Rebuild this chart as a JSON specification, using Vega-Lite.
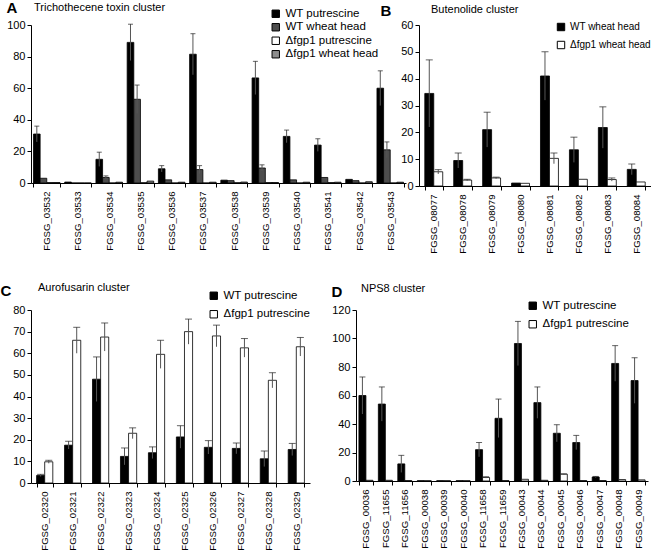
{
  "$schema": "https://vega.github.io/schema/vega-lite/v6.json",
  "padding": {"left": 0, "top": 0, "right": 0, "bottom": 0},
  "spacing": 28,
  "datasets": {
    "a": [
      {"g": "FGSG_03532", "s": "WT putrescine", "v": 31, "lo": 26, "hi": 36},
      {"g": "FGSG_03532", "s": "WT wheat head", "v": 3},
      {"g": "FGSG_03532", "s": "Δfgp1 putrescine", "v": 0.3},
      {"g": "FGSG_03532", "s": "Δfgp1 wheat head", "v": 0.3},
      {"g": "FGSG_03533", "s": "WT putrescine", "v": 0.6},
      {"g": "FGSG_03533", "s": "WT wheat head", "v": 0},
      {"g": "FGSG_03533", "s": "Δfgp1 putrescine", "v": 0},
      {"g": "FGSG_03533", "s": "Δfgp1 wheat head", "v": 0},
      {"g": "FGSG_03534", "s": "WT putrescine", "v": 15, "lo": 10.5, "hi": 19.5},
      {"g": "FGSG_03534", "s": "WT wheat head", "v": 3.5, "lo": 2.5, "hi": 4.5},
      {"g": "FGSG_03534", "s": "Δfgp1 putrescine", "v": 0},
      {"g": "FGSG_03534", "s": "Δfgp1 wheat head", "v": 0.5},
      {"g": "FGSG_03535", "s": "WT putrescine", "v": 89, "lo": 77.5, "hi": 100.5},
      {"g": "FGSG_03535", "s": "WT wheat head", "v": 53, "lo": 44, "hi": 62},
      {"g": "FGSG_03535", "s": "Δfgp1 putrescine", "v": 0.2},
      {"g": "FGSG_03535", "s": "Δfgp1 wheat head", "v": 1.2},
      {"g": "FGSG_03536", "s": "WT putrescine", "v": 9, "lo": 7, "hi": 11},
      {"g": "FGSG_03536", "s": "WT wheat head", "v": 2},
      {"g": "FGSG_03536", "s": "Δfgp1 putrescine", "v": 0},
      {"g": "FGSG_03536", "s": "Δfgp1 wheat head", "v": 0.5},
      {"g": "FGSG_03537", "s": "WT putrescine", "v": 81.5, "lo": 68.5, "hi": 94.5},
      {"g": "FGSG_03537", "s": "WT wheat head", "v": 8.5, "lo": 6, "hi": 11},
      {"g": "FGSG_03537", "s": "Δfgp1 putrescine", "v": 0},
      {"g": "FGSG_03537", "s": "Δfgp1 wheat head", "v": 0.5},
      {"g": "FGSG_03538", "s": "WT putrescine", "v": 1.8},
      {"g": "FGSG_03538", "s": "WT wheat head", "v": 1.5},
      {"g": "FGSG_03538", "s": "Δfgp1 putrescine", "v": 0.2},
      {"g": "FGSG_03538", "s": "Δfgp1 wheat head", "v": 0.6},
      {"g": "FGSG_03539", "s": "WT putrescine", "v": 66.5, "lo": 56, "hi": 77},
      {"g": "FGSG_03539", "s": "WT wheat head", "v": 9.5, "lo": 7.5, "hi": 11.5},
      {"g": "FGSG_03539", "s": "Δfgp1 putrescine", "v": 0.3},
      {"g": "FGSG_03539", "s": "Δfgp1 wheat head", "v": 0.3},
      {"g": "FGSG_03540", "s": "WT putrescine", "v": 29.5, "lo": 25.5, "hi": 33.5},
      {"g": "FGSG_03540", "s": "WT wheat head", "v": 2},
      {"g": "FGSG_03540", "s": "Δfgp1 putrescine", "v": 0},
      {"g": "FGSG_03540", "s": "Δfgp1 wheat head", "v": 0.5},
      {"g": "FGSG_03541", "s": "WT putrescine", "v": 24, "lo": 20, "hi": 28},
      {"g": "FGSG_03541", "s": "WT wheat head", "v": 3.5},
      {"g": "FGSG_03541", "s": "Δfgp1 putrescine", "v": 0.3},
      {"g": "FGSG_03541", "s": "Δfgp1 wheat head", "v": 0.5},
      {"g": "FGSG_03542", "s": "WT putrescine", "v": 2.3},
      {"g": "FGSG_03542", "s": "WT wheat head", "v": 1.5},
      {"g": "FGSG_03542", "s": "Δfgp1 putrescine", "v": 0},
      {"g": "FGSG_03542", "s": "Δfgp1 wheat head", "v": 0.8},
      {"g": "FGSG_03543", "s": "WT putrescine", "v": 60, "lo": 49, "hi": 71},
      {"g": "FGSG_03543", "s": "WT wheat head", "v": 21, "lo": 16, "hi": 26},
      {"g": "FGSG_03543", "s": "Δfgp1 putrescine", "v": 0},
      {"g": "FGSG_03543", "s": "Δfgp1 wheat head", "v": 0.5}
    ],
    "b": [
      {"g": "FGSG_08077", "s": "WT wheat head", "v": 34.5, "lo": 22, "hi": 47},
      {"g": "FGSG_08077", "s": "Δfgp1 wheat head", "v": 5.3, "lo": 4.5, "hi": 6.1},
      {"g": "FGSG_08078", "s": "WT wheat head", "v": 9.5, "lo": 6.7, "hi": 12.3},
      {"g": "FGSG_08078", "s": "Δfgp1 wheat head", "v": 2.2, "lo": 1.9, "hi": 2.5},
      {"g": "FGSG_08079", "s": "WT wheat head", "v": 21, "lo": 14.5, "hi": 27.5},
      {"g": "FGSG_08079", "s": "Δfgp1 wheat head", "v": 3, "lo": 2.7, "hi": 3.3},
      {"g": "FGSG_08080", "s": "WT wheat head", "v": 1.1},
      {"g": "FGSG_08080", "s": "Δfgp1 wheat head", "v": 1.0},
      {"g": "FGSG_08081", "s": "WT wheat head", "v": 41, "lo": 32, "hi": 50},
      {"g": "FGSG_08081", "s": "Δfgp1 wheat head", "v": 10.3, "lo": 8.3, "hi": 12.3},
      {"g": "FGSG_08082", "s": "WT wheat head", "v": 13.5, "lo": 8.8, "hi": 18.2},
      {"g": "FGSG_08082", "s": "Δfgp1 wheat head", "v": 2.5},
      {"g": "FGSG_08083", "s": "WT wheat head", "v": 21.8, "lo": 14.1, "hi": 29.5},
      {"g": "FGSG_08083", "s": "Δfgp1 wheat head", "v": 2.4, "lo": 1.8, "hi": 3},
      {"g": "FGSG_08084", "s": "WT wheat head", "v": 6.2, "lo": 4.2, "hi": 8.2},
      {"g": "FGSG_08084", "s": "Δfgp1 wheat head", "v": 1.5}
    ],
    "c": [
      {"g": "FGSG_02320", "s": "WT putrescine", "v": 3.5, "lo": 3, "hi": 4},
      {"g": "FGSG_02320", "s": "Δfgp1 putrescine", "v": 9.8, "lo": 9.1, "hi": 10.5},
      {"g": "FGSG_02321", "s": "WT putrescine", "v": 17.5, "lo": 15.7, "hi": 19.3},
      {"g": "FGSG_02321", "s": "Δfgp1 putrescine", "v": 66, "lo": 60, "hi": 72},
      {"g": "FGSG_02322", "s": "WT putrescine", "v": 48, "lo": 37.7, "hi": 58.3},
      {"g": "FGSG_02322", "s": "Δfgp1 putrescine", "v": 67.5, "lo": 61, "hi": 74},
      {"g": "FGSG_02323", "s": "WT putrescine", "v": 12.3, "lo": 8.4, "hi": 16.2},
      {"g": "FGSG_02323", "s": "Δfgp1 putrescine", "v": 23, "lo": 20.5, "hi": 25.5},
      {"g": "FGSG_02324", "s": "WT putrescine", "v": 14, "lo": 11.3, "hi": 16.7},
      {"g": "FGSG_02324", "s": "Δfgp1 putrescine", "v": 59.5, "lo": 53, "hi": 66},
      {"g": "FGSG_02325", "s": "WT putrescine", "v": 21.3, "lo": 16.1, "hi": 26.5},
      {"g": "FGSG_02325", "s": "Δfgp1 putrescine", "v": 70, "lo": 64.2, "hi": 75.8},
      {"g": "FGSG_02326", "s": "WT putrescine", "v": 16.5, "lo": 13.4, "hi": 19.6},
      {"g": "FGSG_02326", "s": "Δfgp1 putrescine", "v": 68, "lo": 63, "hi": 73},
      {"g": "FGSG_02327", "s": "WT putrescine", "v": 16, "lo": 13.5, "hi": 18.5},
      {"g": "FGSG_02327", "s": "Δfgp1 putrescine", "v": 62.5, "lo": 58.2, "hi": 66.8},
      {"g": "FGSG_02328", "s": "WT putrescine", "v": 11.2, "lo": 7.6, "hi": 14.8},
      {"g": "FGSG_02328", "s": "Δfgp1 putrescine", "v": 47.5, "lo": 44, "hi": 51},
      {"g": "FGSG_02329", "s": "WT putrescine", "v": 15.5, "lo": 12.7, "hi": 18.3},
      {"g": "FGSG_02329", "s": "Δfgp1 putrescine", "v": 63, "lo": 58.7, "hi": 67.3}
    ],
    "d": [
      {"g": "FGSG_00036", "s": "WT putrescine", "v": 60, "lo": 47, "hi": 73},
      {"g": "FGSG_00036", "s": "Δfgp1 putrescine", "v": 0.5},
      {"g": "FGSG_11655", "s": "WT putrescine", "v": 54, "lo": 42, "hi": 66},
      {"g": "FGSG_11655", "s": "Δfgp1 putrescine", "v": 0.5},
      {"g": "FGSG_11656", "s": "WT putrescine", "v": 12, "lo": 6, "hi": 18},
      {"g": "FGSG_11656", "s": "Δfgp1 putrescine", "v": 0.3},
      {"g": "FGSG_00038", "s": "WT putrescine", "v": 0.2},
      {"g": "FGSG_00038", "s": "Δfgp1 putrescine", "v": 0.2},
      {"g": "FGSG_00039", "s": "WT putrescine", "v": 0.2},
      {"g": "FGSG_00039", "s": "Δfgp1 putrescine", "v": 0.2},
      {"g": "FGSG_00040", "s": "WT putrescine", "v": 0.2},
      {"g": "FGSG_00040", "s": "Δfgp1 putrescine", "v": 0.2},
      {"g": "FGSG_11658", "s": "WT putrescine", "v": 22, "lo": 17, "hi": 27},
      {"g": "FGSG_11658", "s": "Δfgp1 putrescine", "v": 2.5, "lo": 2, "hi": 3},
      {"g": "FGSG_11659", "s": "WT putrescine", "v": 44, "lo": 30.5, "hi": 57.5},
      {"g": "FGSG_11659", "s": "Δfgp1 putrescine", "v": 0.3},
      {"g": "FGSG_00043", "s": "WT putrescine", "v": 96.5, "lo": 81, "hi": 112},
      {"g": "FGSG_00043", "s": "Δfgp1 putrescine", "v": 1.2},
      {"g": "FGSG_00044", "s": "WT putrescine", "v": 55, "lo": 44, "hi": 66},
      {"g": "FGSG_00044", "s": "Δfgp1 putrescine", "v": 0.5},
      {"g": "FGSG_00045", "s": "WT putrescine", "v": 33.5, "lo": 27.5, "hi": 39.5},
      {"g": "FGSG_00045", "s": "Δfgp1 putrescine", "v": 4.8, "lo": 4.6, "hi": 5},
      {"g": "FGSG_00046", "s": "WT putrescine", "v": 27, "lo": 22, "hi": 32},
      {"g": "FGSG_00046", "s": "Δfgp1 putrescine", "v": 0.3},
      {"g": "FGSG_00047", "s": "WT putrescine", "v": 2.8, "lo": 2.4, "hi": 3.2},
      {"g": "FGSG_00047", "s": "Δfgp1 putrescine", "v": 0.3},
      {"g": "FGSG_00048", "s": "WT putrescine", "v": 82.5, "lo": 70, "hi": 95},
      {"g": "FGSG_00048", "s": "Δfgp1 putrescine", "v": 1},
      {"g": "FGSG_00049", "s": "WT putrescine", "v": 70.5, "lo": 54.5, "hi": 86.5},
      {"g": "FGSG_00049", "s": "Δfgp1 putrescine", "v": 0.8}
    ]
  },
  "vconcat": [
    {
      "hconcat": [
        {
          "width": 375,
          "height": 158,
          "data": {"name": "a"},
          "title": {"text": "Trichothecene toxin cluster", "dx": 3, "offset": 0, "dy": 13},
          "encoding": {
            "x": {"field": "g", "type": "nominal", "sort": null, "scale": {"paddingInner": 0.15, "paddingOuter": 0.08}},
            "xOffset": {"field": "s", "type": "nominal", "scale": {"domain": ["WT putrescine", "WT wheat head", "Δfgp1 putrescine", "Δfgp1 wheat head"]}}
          },
          "layer": [
            {
              "mark": {"type": "bar", "stroke": "black", "strokeWidth": 0.8},
              "encoding": {
                "y": {"field": "v", "type": "quantitative", "title": "A", "scale": {"domain": [0, 100]},
                  "axis": {"values": [0, 20, 40, 60, 80, 100], "labelOverlap": false, "titleX": -25, "titleY": -25}},
                "color": {"field": "s", "type": "nominal",
                  "scale": {"domain": ["WT putrescine", "WT wheat head", "Δfgp1 putrescine", "Δfgp1 wheat head"], "range": ["#000000", "#4d4d4d", "#ffffff", "#8c8c8c"]},
                  "legend": {"legendX": 239, "legendY": -17, "rowPadding": 0.5}}
              }
            },
            {
              "transform": [{"filter": "isValid(datum.hi)"}],
              "mark": {"type": "rule", "color": "#555555", "strokeWidth": 1},
              "encoding": {"y": {"field": "lo", "type": "quantitative", "title": "A",
                  "axis": {"values": [0, 20, 40, 60, 80, 100], "labelOverlap": false, "titleX": -25, "titleY": -25}}, "y2": {"field": "hi"}}
            },
            {
              "transform": [{"filter": "isValid(datum.hi)"}],
              "mark": {"type": "tick", "color": "#222222", "size": 5, "thickness": 1},
              "encoding": {"y": {"field": "hi", "type": "quantitative", "title": "A",
                  "axis": {"values": [0, 20, 40, 60, 80, 100], "labelOverlap": false, "titleX": -25, "titleY": -25}}}
            }
          ]
        },
        {
          "width": 232,
          "height": 161,
          "data": {"name": "b"},
          "title": {"text": "Butenolide cluster", "dx": 12, "offset": 0, "dy": 12},
          "encoding": {
            "x": {"field": "g", "type": "nominal", "sort": null, "scale": {"paddingInner": 0.38, "paddingOuter": 0.2}},
            "xOffset": {"field": "s", "type": "nominal", "scale": {"domain": ["WT wheat head", "Δfgp1 wheat head"]}}
          },
          "layer": [
            {
              "mark": {"type": "bar", "stroke": "black", "strokeWidth": 0.8},
              "encoding": {
                "y": {"field": "v", "type": "quantitative", "title": "B", "scale": {"domain": [0, 60]},
                  "axis": {"values": [0, 10, 20, 30, 40, 50, 60], "labelOverlap": false, "titleX": -39, "titleY": -22}},
                "color": {"field": "s", "type": "nominal",
                  "scale": {"domain": ["WT wheat head", "Δfgp1 wheat head"], "range": ["#000000", "#ffffff"]},
                  "legend": {"legendX": 137, "legendY": -3, "rowPadding": 6, "labelFontSize": 10}}
              }
            },
            {
              "transform": [{"filter": "isValid(datum.hi)"}],
              "mark": {"type": "rule", "color": "#555555", "strokeWidth": 1},
              "encoding": {"y": {"field": "lo", "type": "quantitative", "title": "B",
                  "axis": {"values": [0, 10, 20, 30, 40, 50, 60], "labelOverlap": false, "titleX": -39, "titleY": -22}}, "y2": {"field": "hi"}}
            },
            {
              "transform": [{"filter": "isValid(datum.hi)"}],
              "mark": {"type": "tick", "color": "#222222", "size": 7, "thickness": 1},
              "encoding": {"y": {"field": "hi", "type": "quantitative", "title": "B",
                  "axis": {"values": [0, 10, 20, 30, 40, 50, 60], "labelOverlap": false, "titleX": -39, "titleY": -22}}}
            }
          ]
        }
      ],
      "spacing": 13,
      "bounds": "flush",
      "resolve": {"scale": {"color": "independent", "x": "independent", "y": "independent", "xOffset": "independent"}, "legend": {"color": "independent"}}
    },
    {
      "hconcat": [
        {
          "width": 279,
          "height": 173,
          "data": {"name": "c"},
          "title": {"text": "Aurofusarin cluster", "dx": 7, "offset": 0, "dy": 10},
          "encoding": {
            "x": {"field": "g", "type": "nominal", "sort": null, "scale": {"paddingInner": 0.42, "paddingOuter": 0.2}},
            "xOffset": {"field": "s", "type": "nominal", "scale": {"domain": ["WT putrescine", "Δfgp1 putrescine"]}}
          },
          "layer": [
            {
              "mark": {"type": "bar", "stroke": "black", "strokeWidth": 0.8},
              "encoding": {
                "y": {"field": "v", "type": "quantitative", "title": "C", "scale": {"domain": [0, 80]},
                  "axis": {"values": [0, 10, 20, 30, 40, 50, 60, 70, 80], "labelOverlap": false, "titleX": -31, "titleY": -27}},
                "color": {"field": "s", "type": "nominal",
                  "scale": {"domain": ["WT putrescine", "Δfgp1 putrescine"], "range": ["#000000", "#ffffff"]},
                  "legend": {"legendX": 177, "legendY": -20, "rowPadding": 5.5}}
              }
            },
            {
              "transform": [{"filter": "isValid(datum.hi)"}],
              "mark": {"type": "rule", "color": "#555555", "strokeWidth": 1},
              "encoding": {"y": {"field": "lo", "type": "quantitative", "title": "C",
                  "axis": {"values": [0, 10, 20, 30, 40, 50, 60, 70, 80], "labelOverlap": false, "titleX": -31, "titleY": -27}}, "y2": {"field": "hi"}}
            },
            {
              "transform": [{"filter": "isValid(datum.hi)"}],
              "mark": {"type": "tick", "color": "#222222", "size": 7, "thickness": 1},
              "encoding": {"y": {"field": "hi", "type": "quantitative", "title": "C",
                  "axis": {"values": [0, 10, 20, 30, 40, 50, 60, 70, 80], "labelOverlap": false, "titleX": -31, "titleY": -27}}}
            }
          ]
        },
        {
          "width": 292,
          "height": 171,
          "data": {"name": "d"},
          "title": {"text": "NPS8 cluster", "dx": 5, "offset": 0, "dy": 10},
          "encoding": {
            "x": {"field": "g", "type": "nominal", "sort": null, "scale": {"paddingInner": 0.28, "paddingOuter": 0.15}},
            "xOffset": {"field": "s", "type": "nominal", "scale": {"domain": ["WT putrescine", "Δfgp1 putrescine"]}}
          },
          "layer": [
            {
              "mark": {"type": "bar", "stroke": "black", "strokeWidth": 0.8},
              "encoding": {
                "y": {"field": "v", "type": "quantitative", "title": "D", "scale": {"domain": [0, 120]},
                  "axis": {"values": [0, 20, 40, 60, 80, 100, 120], "labelOverlap": false, "titleX": -25, "titleY": -26}},
                "color": {"field": "s", "type": "nominal",
                  "scale": {"domain": ["WT putrescine", "Δfgp1 putrescine"], "range": ["#000000", "#ffffff"]},
                  "legend": {"legendX": 171, "legendY": -10, "rowPadding": 5.5}}
              }
            },
            {
              "transform": [{"filter": "isValid(datum.hi)"}],
              "mark": {"type": "rule", "color": "#555555", "strokeWidth": 1},
              "encoding": {"y": {"field": "lo", "type": "quantitative", "title": "D",
                  "axis": {"values": [0, 20, 40, 60, 80, 100, 120], "labelOverlap": false, "titleX": -25, "titleY": -26}}, "y2": {"field": "hi"}}
            },
            {
              "transform": [{"filter": "isValid(datum.hi)"}],
              "mark": {"type": "tick", "color": "#222222", "size": 6, "thickness": 1},
              "encoding": {"y": {"field": "hi", "type": "quantitative", "title": "D",
                  "axis": {"values": [0, 20, 40, 60, 80, 100, 120], "labelOverlap": false, "titleX": -25, "titleY": -26}}}
            }
          ]
        }
      ],
      "spacing": 46,
      "bounds": "flush",
      "resolve": {"scale": {"color": "independent", "x": "independent", "y": "independent", "xOffset": "independent"}, "legend": {"color": "independent"}}
    }
  ],
  "resolve": {"scale": {"color": "independent", "x": "independent", "y": "independent", "xOffset": "independent"}, "legend": {"color": "independent"}},
  "config": {
    "font": "Liberation Sans",
    "view": {"stroke": null},
    "title": {"fontSize": 11, "fontWeight": "normal", "anchor": "start", "frame": "group", "color": "black", "font": "Liberation Sans"},
    "axis": {
      "labelFont": "Liberation Sans",
      "labelFontSize": 11,
      "labelColor": "black",
      "domainColor": "black",
      "tickColor": "black",
      "tickSize": 4,
      "grid": false,
      "labelOverlap": false,
      "titleFont": "Liberation Sans",
      "titleFontSize": 15,
      "titleFontWeight": "bold",
      "titleColor": "black"
    },
    "axisQuantitative": {"labelOverlap": false},
    "axisY": {"titleAngle": 0, "titleAlign": "left", "titleBaseline": "top", "labelPadding": 2, "labelOverlap": false, "labelFlush": false},
    "axisX": {"title": null, "labelAngle": -90, "tickBand": "extent", "labelPadding": 4, "labelFontSize": 9.6},
    "legend": {
      "orient": "none",
      "title": null,
      "symbolType": "square",
      "symbolSize": 55,
      "symbolStrokeColor": "black",
      "symbolStrokeWidth": 1,
      "symbolOpacity": 1,
      "labelFont": "Liberation Sans",
      "labelFontSize": 11.5,
      "labelColor": "black",
      "padding": 0
    }
  }
}
